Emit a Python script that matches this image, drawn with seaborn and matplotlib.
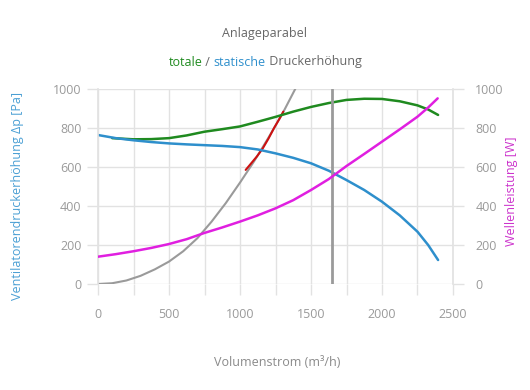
"""Ventilator-Kennlinien mit Anlageparabel."""

import matplotlib
matplotlib.use("Agg")

import matplotlib.pyplot as plt
import seaborn as sns
from matplotlib.ticker import MultipleLocator

# Volumenstrom (m3/h) und Kennlinien
q_static = [0, 125, 250, 375, 500, 625, 750, 875, 1000, 1125, 1250, 1375, 1500,
            1625, 1750, 1875, 2000, 2125, 2250, 2325, 2395]
p_static = [764, 748, 737, 728, 721, 716, 712, 708, 702, 690, 670, 647, 619,
            581, 533, 482, 422, 352, 268, 200, 123]

q_total = [100, 250, 375, 500, 625, 750, 875, 1000, 1125, 1250, 1375, 1500,
           1625, 1750, 1875, 2000, 2125, 2250, 2325, 2395]
p_total = [748, 742, 743, 748, 762, 781, 794, 808, 832, 857, 884, 908,
           928, 944, 950, 949, 937, 916, 895, 867]

q_power = [0, 125, 250, 375, 500, 625, 750, 875, 1000, 1125, 1250, 1375, 1500,
           1625, 1750, 1875, 2000, 2125, 2250, 2325, 2392]
p_power = [140, 153, 168, 185, 205, 230, 262, 290, 320, 352, 388, 430, 482,
           538, 605, 667, 730, 793, 858, 905, 952]

q_system = [0, 100, 200, 300, 400, 500, 600, 700, 800, 900, 1000, 1100, 1200, 1300, 1396]
p_system = [0, 4, 18, 42, 75, 115, 168, 235, 320, 415, 520, 630, 750, 875, 1010]

q_operating = [1040, 1080, 1120, 1160, 1200, 1240, 1280, 1305]
p_operating = [585, 620, 655, 695, 745, 800, 850, 884]

q_design = 1650

GREEN = "#1f8a1f"
BLUE = "#2e8fcc"
MAGENTA = "#e01fe0"
RED = "#cc1111"
GRAY = "#9a9a9a"
GRID = "#e2e2e2"

sns.set_theme(style="white")
plt.rcParams["font.family"] = ["Open Sans", "DejaVu Sans"]

fig = plt.figure(figsize=(5.3, 3.9), dpi=100)
ax = fig.add_axes([98 / 530, 1 - 284 / 390, 355 / 530, 195 / 390])
ax2 = ax.twinx()

sns.lineplot(x=q_system, y=p_system, ax=ax, color=GRAY, linewidth=1.5, sort=False)
sns.lineplot(x=q_operating, y=p_operating, ax=ax, color=RED, linewidth=1.5)
sns.lineplot(x=q_total, y=p_total, ax=ax, color=GREEN, linewidth=1.8)
sns.lineplot(x=q_static, y=p_static, ax=ax, color=BLUE, linewidth=1.8)
sns.lineplot(x=q_power, y=p_power, ax=ax2, color=MAGENTA, linewidth=1.8)
ax.axvline(q_design, color=GRAY, linewidth=2, zorder=5)

for a in (ax, ax2):
    a.set_xlim(0, 2500)
    a.set_ylim(0, 1000)
    a.yaxis.set_major_locator(MultipleLocator(200))
    for side in a.spines:
        a.spines[side].set_visible(False)
    a.set_ylabel("")
    a.set_xlabel("")

ax.xaxis.set_major_locator(MultipleLocator(500))
ax.xaxis.set_minor_locator(MultipleLocator(250))
ax.grid(True, which="both", axis="x", color=GRID, linewidth=1)
ax.grid(True, which="major", axis="y", color=GRID, linewidth=1)
ax.set_axisbelow(True)
ax.spines["left"].set_visible(True)
ax.spines["left"].set_color(GRID)
ax2.spines["right"].set_visible(True)
ax2.spines["right"].set_color(GRID)

tick_kw = dict(colors=GRID, labelcolor="#9a9a9a", labelsize=9, length=8, width=1)
ax.tick_params(axis="y", which="major", left=True, pad=4, **tick_kw)
ax.tick_params(axis="x", which="both", bottom=True, pad=9, **tick_kw)
ax2.tick_params(axis="y", which="major", right=True, pad=8, **tick_kw)

fig.text(0.5, 1 - 33 / 390, "Anlageparabel", ha="center", va="center", fontsize=9, color="#666666")

# Untertitel in Teilen mit eigener Farbe
parts = [("totale", GREEN), (" / ", "#666666"), ("statische", BLUE), (" Druckerhöhung", "#666666")]
renderer = fig.canvas.get_renderer()
texts = [fig.text(0, 1 - 62 / 390, s, fontsize=9, color=c, va="center") for s, c in parts]
widths = [t.get_window_extent(renderer).width for t in texts]
x0 = 265 - sum(widths) / 2
for t, w in zip(texts, widths):
    t.set_x(x0 / 530)
    x0 += w

fig.text(18 / 530, 1 - 196 / 390, "Ventilatorendruckerhöhung Δp [Pa]", rotation=90,
         ha="center", va="center", fontsize=9, color="#4a9fd4")
fig.text(512 / 530, 1 - 191 / 390, "Wellenleistung [W]", rotation=90,
         ha="center", va="center", fontsize=9, color="#cc33cc")
fig.text(277 / 530, 1 - 362 / 390, "Volumenstrom (m³/h)", ha="center", va="center",
         fontsize=9, color="#8a8a8a")

fig.savefig("out.png", dpi=100)
plt.close(fig)
